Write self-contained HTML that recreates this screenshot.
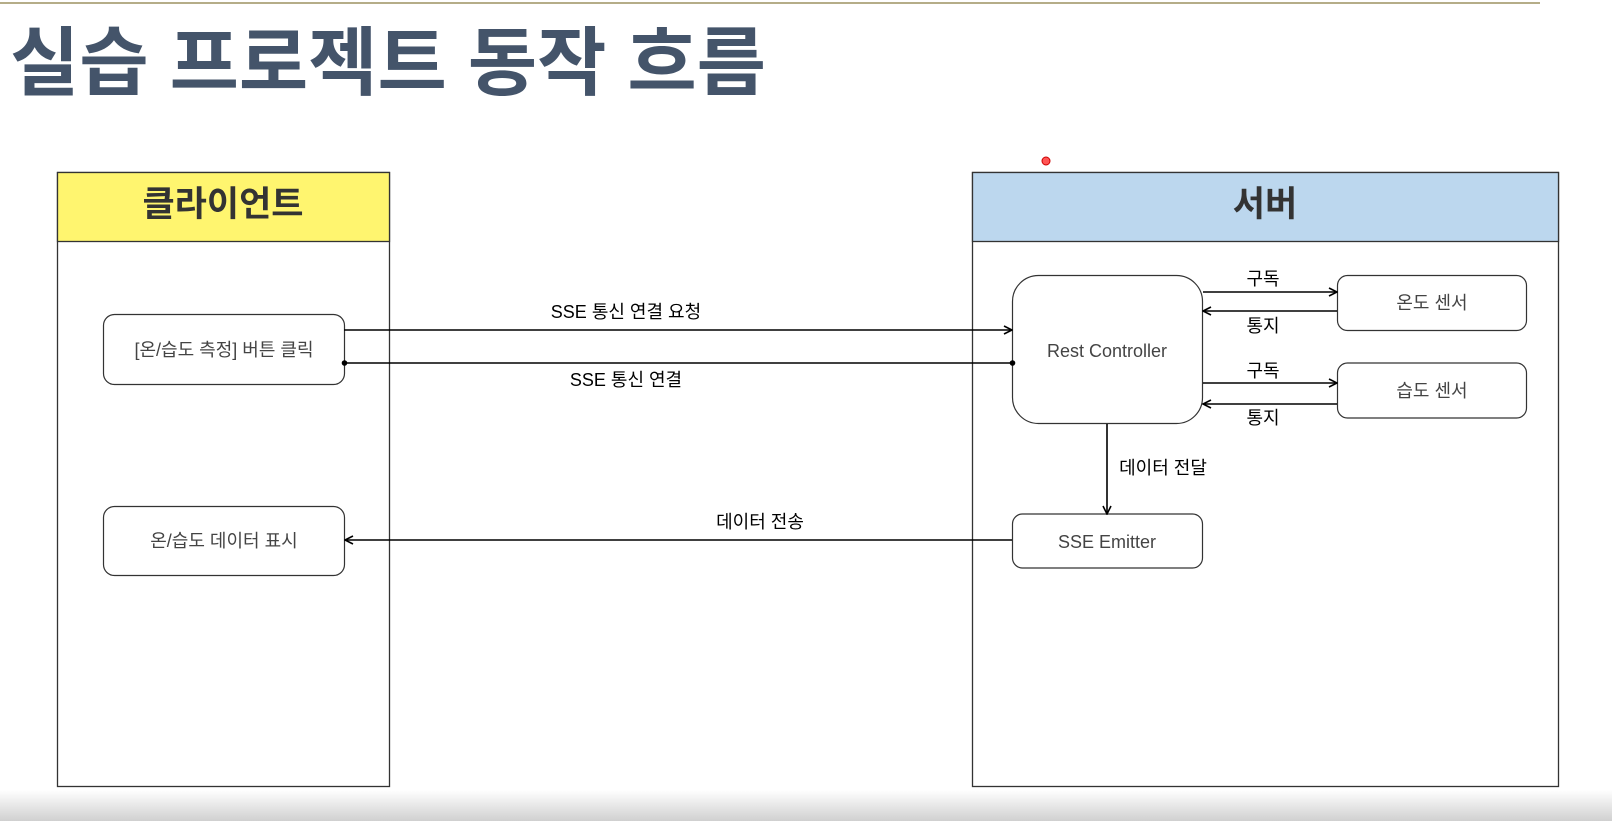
<!DOCTYPE html>
<html><head><meta charset="utf-8"><style>
html,body{margin:0;padding:0;background:#fff;width:1612px;height:821px;overflow:hidden}
svg{display:block}
text{font-family:"Liberation Sans","Noto Sans CJK KR",sans-serif}
</style></head><body>
<svg width="1612" height="821" viewBox="0 0 1612 821" xmlns="http://www.w3.org/2000/svg">
<defs>
<marker id="a" viewBox="0 0 10 10" refX="9" refY="5" markerWidth="10" markerHeight="10" markerUnits="userSpaceOnUse" orient="auto">
<path d="M1,1 L9,5 L1,9" fill="none" stroke="#000" stroke-width="1.6"/></marker>
<linearGradient id="g" x1="0" y1="0" x2="0" y2="1"><stop offset="0" stop-color="#fff"/><stop offset="1" stop-color="#d0d0d0"/></linearGradient>
</defs>
<line x1="0" y1="3" x2="1540" y2="3" stroke="#b5ad88" stroke-width="2"/>
<rect x="0" y="790" width="1612" height="31" fill="url(#g)"/>
<text x="10" y="89" font-size="75" font-weight="bold" fill="#44546a" textLength="756" lengthAdjust="spacingAndGlyphs">실습 프로젝트 동작 흐름</text>

<!-- client -->
<rect x="57.5" y="172.5" width="332" height="614" fill="#fff" stroke="#333" stroke-width="1.3"/>
<rect x="57.5" y="172.5" width="332" height="69" fill="#fff56f" stroke="#333" stroke-width="1.3"/>
<text x="223" y="216" font-size="35" font-weight="bold" fill="#333" text-anchor="middle">클라이언트</text>
<!-- server -->
<rect x="972.5" y="172.5" width="586" height="614" fill="#fff" stroke="#333" stroke-width="1.3"/>
<rect x="972.5" y="172.5" width="586" height="69" fill="#bcd7ee" stroke="#333" stroke-width="1.3"/>
<text x="1265" y="216" font-size="35" font-weight="bold" fill="#333" text-anchor="middle">서버</text>

<g fill="#fff" stroke="#333" stroke-width="1.2">
<rect x="103.5" y="314.5" width="241" height="70" rx="11"/>
<rect x="103.5" y="506.5" width="241" height="69" rx="11"/>
<rect x="1012.5" y="275.5" width="190" height="148" rx="26"/>
<rect x="1337.5" y="275.5" width="189" height="55" rx="10"/>
<rect x="1337.5" y="363" width="189" height="55" rx="10"/>
<rect x="1012.5" y="514" width="190" height="54" rx="10"/>
</g>
<g font-size="18" fill="#444" text-anchor="middle">
<text x="224" y="356">[온/습도 측정] 버튼 클릭</text>
<text x="224" y="547">온/습도 데이터 표시</text>
<text x="1107" y="357">Rest Controller</text>
<text x="1432" y="309">온도 센서</text>
<text x="1432" y="397">습도 센서</text>
<text x="1107" y="548">SSE Emitter</text>
</g>

<g stroke="#000" stroke-width="1.6" fill="none">
<line x1="344" y1="330" x2="1012" y2="330" marker-end="url(#a)"/>
<line x1="344" y1="363" x2="1012" y2="363"/>
<line x1="1203" y1="292" x2="1337" y2="292" marker-end="url(#a)"/>
<line x1="1337" y1="311" x2="1203" y2="311" marker-end="url(#a)"/>
<line x1="1203" y1="383" x2="1337" y2="383" marker-end="url(#a)"/>
<line x1="1337" y1="404" x2="1203" y2="404" marker-end="url(#a)"/>
<line x1="1107" y1="424" x2="1107" y2="514" marker-end="url(#a)"/>
<line x1="1012" y1="540" x2="345" y2="540" marker-end="url(#a)"/>
</g>
<circle cx="344.5" cy="363" r="2.8" fill="#000"/>
<circle cx="1012.5" cy="363" r="2.8" fill="#000"/>
<g font-size="18" fill="#000" text-anchor="middle">
<text x="626" y="318">SSE 통신 연결 요청</text>
<text x="626" y="386">SSE 통신 연결</text>
<text x="1263" y="285">구독</text>
<text x="1263" y="332">통지</text>
<text x="1263" y="377">구독</text>
<text x="1263" y="424">통지</text>
<text x="1163" y="474">데이터 전달</text>
<text x="760" y="528">데이터 전송</text>
</g>
<circle cx="1046" cy="161" r="4" fill="#f55" stroke="#c00"/>
</svg>
</body></html>
